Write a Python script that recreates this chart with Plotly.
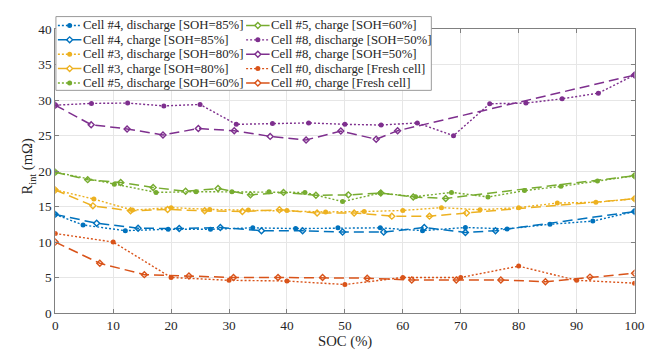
import plotly.graph_objects as go

# ---------------- data ----------------
soc4_dis = [0, 4.8, 12.1, 19.5, 26.8, 34.1, 41.5, 48.8, 56.1, 63.4, 70.8, 78.0, 85.4, 92.8, 100]
r4_dis = [13.9, 12.4, 11.6, 11.8, 11.8, 12.0, 11.9, 12.0, 12.0, 11.6, 12.05, 11.85, 12.5, 12.95, 14.3]
soc4_ch = [0, 7.15, 14.3, 21.4, 28.5, 35.6, 42.7, 49.6, 56.7, 63.7, 70.8, 76.0, 100]
r4_ch = [13.9, 12.65, 11.95, 11.9, 12.05, 11.6, 11.6, 11.4, 11.4, 12.05, 11.35, 11.6, 14.3]

soc3_dis = [0, 6.67, 13.33, 20, 26.67, 33.33, 40, 46.67, 53.33, 60, 66.67, 73.33, 80, 86.67, 93.33, 100]
r3_dis = [17.35, 16.05, 14.5, 14.85, 14.6, 14.5, 14.45, 14.25, 14.3, 14.45, 14.85, 14.55, 14.85, 15.5, 15.6, 16.1]
soc3_ch = [0, 6.5, 13.0, 19.4, 25.8, 32.3, 38.7, 45.2, 51.6, 58.1, 64.6, 71.0, 100]
r3_ch = [17.35, 15.1, 14.4, 14.6, 14.4, 14.3, 14.55, 14.1, 14.1, 13.65, 13.65, 14.1, 16.1]

soc5_dis = [0, 10.2, 17.4, 24.3, 30.5, 36.9, 43.1, 49.6, 56.1, 62.2, 68.4, 74.7, 81.0, 87.3, 93.6, 100]
r5_dis = [19.85, 18.15, 17.0, 17.1, 17.1, 17.1, 17.0, 15.7, 16.9, 16.4, 17.0, 16.35, 17.25, 17.85, 18.6, 19.35]
soc5_ch = [0, 5.6, 11.3, 16.9, 22.5, 28.1, 33.7, 39.4, 45.0, 50.6, 56.2, 61.8, 67.4, 100]
r5_ch = [19.85, 18.8, 18.4, 17.7, 17.15, 17.55, 16.65, 17.0, 16.6, 16.65, 16.9, 16.35, 16.15, 19.35]

soc8_dis = [0, 6.25, 12.5, 18.75, 25, 31.25, 37.5, 43.75, 50, 56.25, 62.5, 68.75, 75, 81.25, 87.5, 93.75, 100]
r8_dis = [29.3, 29.55, 29.6, 29.2, 29.4, 26.6, 26.7, 26.8, 26.6, 26.5, 26.8, 25.0, 29.5, 29.6, 30.2, 31.0, 33.55]
soc8_ch = [0, 6.2, 12.4, 18.6, 24.7, 30.9, 37.1, 43.3, 49.3, 55.4, 59.1, 100]
r8_ch = [29.3, 26.55, 25.95, 25.1, 26.0, 25.7, 24.9, 24.4, 25.65, 24.5, 25.7, 33.55]

soc0_dis = [0, 10, 20, 30, 40, 50, 60, 70, 80, 90, 100]
r0_dis = [11.2, 10.0, 5.0, 4.6, 4.5, 4.0, 5.0, 5.0, 6.6, 4.6, 4.2]
soc0_ch = [0, 7.69, 15.38, 23.08, 30.77, 38.46, 46.15, 53.85, 61.54, 69.23, 76.92, 84.62, 92.31, 100]
r0_ch = [10.0, 7.0, 5.4, 5.2, 5.0, 5.0, 5.0, 4.9, 4.65, 4.65, 4.65, 4.4, 5.05, 5.6]

labels = [
    "Cell #4, discharge [SOH=85%]", "Cell #4, charge [SOH=85%]",
    "Cell #3, discharge [SOH=80%]", "Cell #3, charge [SOH=80%]",
    "Cell #5, discharge [SOH=60%]", "Cell #5, charge [SOH=60%]",
    "Cell #8, discharge [SOH=50%]", "Cell #8, charge [SOH=50%]",
    "Cell #0, discharge [Fresh cell]", "Cell #0, charge [Fresh cell]",
]
x_ticks = [0, 10, 20, 30, 40, 50, 60, 70, 80, 90, 100]
y_ticks = [0, 5, 10, 15, 20, 25, 30, 35, 40]

# ---------------- styling ----------------
BLUE, ORANGE, YELLOW, PURPLE, GREEN = "#0072BD", "#D95319", "#EDB120", "#7E2F8E", "#77AC30"
xs = [soc4_dis, soc4_ch, soc3_dis, soc3_ch, soc5_dis, soc5_ch, soc8_dis, soc8_ch, soc0_dis, soc0_ch]
ys = [r4_dis, r4_ch, r3_dis, r3_ch, r5_dis, r5_ch, r8_dis, r8_ch, r0_dis, r0_ch]
colors = [BLUE, BLUE, YELLOW, YELLOW, GREEN, GREEN, PURPLE, PURPLE, ORANGE, ORANGE]

W, H = 656, 358
PL, PR, PT, PB = 53.3, 644.3, 23.3, 319.3
FONT = "Times New Roman, Liberation Serif, serif"
TXT = "#262626"
DOT = "2px,2px"
DASH = "10px,5px"


def style(i, c):
    if i % 2 == 0:  # discharge: dotted, filled circle
        return (dict(color=c, width=1.4, dash=DOT),
                dict(symbol="circle", size=5, color=c, line=dict(width=0)))
    return (dict(color=c, width=1.5, dash=DASH),
            dict(symbol="diamond-open", size=4.6, color=c, line=dict(width=1.4, color=c)))


fig = go.Figure()
for i in range(10):
    ln, mk = style(i, colors[i])
    fig.add_trace(go.Scatter(x=xs[i], y=ys[i], mode="lines+markers", line=ln, marker=mk,
                             name=labels[i], showlegend=False, xaxis="x", yaxis="y"))

# ---------------- hand-built legend (pixel coords on an overlay subplot) ----------------
box = dict(l=54, r=437, t=10, b=87)
fig.add_trace(go.Scatter(x=[box["l"], box["r"], box["r"], box["l"], box["l"]],
                         y=[box["t"], box["t"], box["b"], box["b"], box["t"]],
                         mode="lines", fill="toself", fillcolor="white",
                         line=dict(color="#9a9a9a", width=1), showlegend=False,
                         hoverinfo="skip", xaxis="x2", yaxis="y2"))
col_x = [56, 248]
row_y0, row_dy = 19.3, 15.0
annotations = []
for i in range(10):
    col, row = divmod(i, 5)
    x0 = col_x[col]
    yy = row_y0 + row * row_dy
    ln, mk = style(i, colors[i])
    fig.add_trace(go.Scatter(x=[x0, x0 + 24], y=[yy, yy], mode="lines", line=ln,
                             showlegend=False, hoverinfo="skip", xaxis="x2", yaxis="y2"))
    fig.add_trace(go.Scatter(x=[x0 + 12], y=[yy], mode="markers", marker=mk,
                             showlegend=False, hoverinfo="skip", xaxis="x2", yaxis="y2"))
    annotations.append(dict(x=x0 + 23.5, y=yy, xref="x2", yref="y2", text=labels[i],
                            showarrow=False, xanchor="left", yanchor="middle",
                            font=dict(family=FONT, size=12.8, color=TXT)))

annotations.append(dict(x=(PL + PR) / 2, y=349, xref="x2", yref="y2", text="SOC (%)",
                        showarrow=False, xanchor="center", yanchor="middle",
                        font=dict(family=FONT, size=14.7, color=TXT)))
annotations.append(dict(x=26, y=166, xref="x2", yref="y2", text="R<sub>int</sub> (mΩ)",
                        textangle=-90, showarrow=False, xanchor="center", yanchor="middle",
                        font=dict(family=FONT, size=14.7, color=TXT)))

axis_common = dict(showgrid=True, gridcolor="#e6e6e6", gridwidth=1, showline=True,
                   linecolor="#808080", linewidth=1, mirror="ticks", ticks="inside",
                   ticklen=4, tickcolor="#808080", zeroline=False,
                   tickfont=dict(family=FONT, size=13.3, color=TXT))

fig.update_layout(
    width=W, height=H, margin=dict(l=0, r=0, t=0, b=0),
    font=dict(family=FONT, color=TXT),
    paper_bgcolor="white", plot_bgcolor="rgba(0,0,0,0)",
    xaxis=dict(domain=[PL / W, PR / W], range=[0, 100], tickvals=x_ticks, anchor="y", **axis_common),
    yaxis=dict(domain=[(H - PB) / H, (H - PT) / H], range=[0, 40], tickvals=y_ticks, anchor="x", **axis_common),
    xaxis2=dict(domain=[0, 1], range=[0, W], visible=False, anchor="y2", fixedrange=True),
    yaxis2=dict(domain=[0, 1], range=[H, 0], visible=False, anchor="x2", fixedrange=True),
    annotations=annotations,
    showlegend=False,
)

fig.write_html("out.html")
